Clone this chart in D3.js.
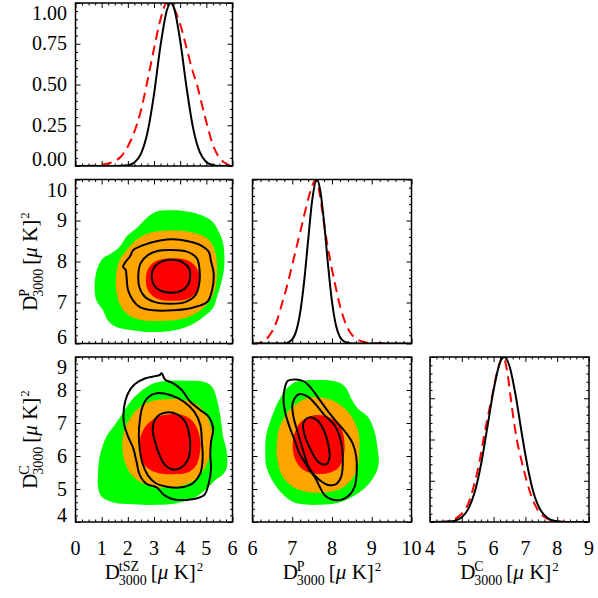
<!DOCTYPE html>
<html><head><meta charset="utf-8">
<script src="https://cdn.jsdelivr.net/npm/d3@7"></script>
<style>
body{margin:0;background:#fff}
svg{display:block}
</style>
</head><body>
<svg id="c" width="598" height="598" font-family="'Liberation Serif', 'DejaVu Serif', serif"></svg>
<script>
// ---------- axis ranges and ticks ----------
const tszRange = [0, 6];
const pRange = [6, 10];
const cRange = [4, 9];
const probRange = [0, 1];
const tszTicks = [0, 1, 2, 3, 4, 5, 6];
const pTicks = [6, 7, 8, 9, 10];
const cTicks = [4, 5, 6, 7, 8, 9];
const probTicks = [0, 0.25, 0.5, 0.75, 1.0];
const probTickLabels = ["0.00", "0.25", "0.50", "0.75", "1.00"];
const tszMinorStep = 0.25, pMinorStep = 0.2, cMinorStep = 0.2, probMinorStep = 0.05;

// ---------- 1D marginals ----------
const tszBlackX = [0, 1.5, 2.0, 2.25, 2.5, 2.75, 3.0, 3.25, 3.5, 3.64, 3.75, 4.0, 4.25, 4.5, 4.75, 5.0, 5.25, 5.5, 6.0];
const tszBlackY = [0, 0, 0.005, 0.021, 0.074, 0.205, 0.44, 0.74, 0.96, 1.0, 0.976, 0.77, 0.475, 0.228, 0.085, 0.025, 0.006, 0, 0];
const tszRedX = [0.4, 1.0, 1.5, 1.75, 2.0, 2.25, 2.5, 2.72, 3.0, 3.25, 3.49, 3.75, 4.0, 4.25, 4.5, 4.64, 4.75, 5.0, 5.25, 5.5, 5.75, 5.95];
const tszRedY = [0, 0.008, 0.03, 0.06, 0.12, 0.21, 0.34, 0.5, 0.72, 0.9, 1.0, 0.97, 0.87, 0.72, 0.57, 0.5, 0.43, 0.27, 0.13, 0.05, 0.015, 0];

const pBlackX = [6.0, 6.8, 7.0, 7.1, 7.2, 7.3, 7.4, 7.5, 7.62, 7.7, 7.8, 7.9, 8.0, 8.1, 8.2, 8.3, 8.5, 10.0];
const pBlackY = [0, 0, 0.026, 0.077, 0.19, 0.38, 0.63, 0.87, 1.0, 0.94, 0.74, 0.48, 0.255, 0.11, 0.04, 0.013, 0, 0];
const pRedX = [6.0, 6.2, 6.4, 6.6, 6.75, 6.9, 7.02, 7.15, 7.27, 7.4, 7.5, 7.59, 7.7, 7.77, 7.87, 7.96, 8.07, 8.18, 8.3, 8.45, 8.6, 8.8, 9.0, 9.4];
const pRedY = [0, 0.005, 0.04, 0.13, 0.25, 0.38, 0.5, 0.63, 0.75, 0.88, 0.96, 1.0, 0.9, 0.78, 0.62, 0.5, 0.37, 0.25, 0.15, 0.07, 0.03, 0.01, 0.002, 0];

const cBlackX = [4.0, 4.6, 4.8, 5.0, 5.2, 5.4, 5.6, 5.8, 6.0, 6.2, 6.33, 6.5, 6.7, 6.9, 7.1, 7.3, 7.5, 7.7, 7.9, 8.2, 9.0];
const cBlackY = [0, 0.0025, 0.009, 0.029, 0.078, 0.177, 0.344, 0.57, 0.80, 0.966, 1.0, 0.944, 0.76, 0.52, 0.305, 0.15, 0.065, 0.024, 0.007, 0, 0];
const cRedX = [4.3, 4.6, 4.8, 5.0, 5.2, 5.42, 5.55, 5.68, 5.8, 5.94, 6.1, 6.3, 6.42, 6.54, 6.63, 6.73, 6.88, 7.04, 7.2, 7.4, 7.6, 7.8, 8.0, 8.4];
const cRedY = [0, 0.005, 0.02, 0.05, 0.11, 0.25, 0.36, 0.5, 0.62, 0.75, 0.9, 1.0, 0.92, 0.75, 0.62, 0.5, 0.37, 0.25, 0.15, 0.07, 0.03, 0.01, 0.003, 0];

// ---------- 2D: tSZ vs P ----------
const tszP_green = [[3.10,9.22],[3.74,9.25],[4.26,9.22],[4.77,9.14],[5.22,8.98],[5.47,8.73],[5.64,8.45],[5.69,8.12],[5.67,7.79],[5.56,7.46],[5.41,7.14],[5.28,6.89],[4.90,6.65],[4.38,6.44],[3.74,6.32],[2.97,6.28],[2.21,6.32],[1.56,6.40],[1.24,6.56],[1.05,6.81],[0.79,7.06],[0.73,7.38],[0.76,7.63],[0.86,7.87],[1.05,8.08],[1.37,8.20],[1.69,8.36],[1.95,8.61],[2.33,8.81],[2.72,9.06]];
const tszP_orange = [[3.10,8.73],[4.0,8.75],[4.77,8.65],[5.15,8.49],[5.35,8.20],[5.41,7.79],[5.35,7.38],[5.15,7.06],[4.77,6.81],[4.13,6.61],[3.23,6.55],[2.46,6.58],[1.95,6.73],[1.69,6.97],[1.56,7.30],[1.56,7.71],[1.69,8.04],[1.95,8.28],[2.33,8.53],[2.72,8.67]];
const tszP_red = [[3.72,8.08],[4.32,8.02],[4.64,7.83],[4.74,7.56],[4.64,7.28],[4.32,7.10],[3.72,7.04],[3.10,7.10],[2.78,7.28],[2.69,7.56],[2.78,7.83],[3.10,8.02]];
const tszP_line1 = [[3.64,8.04],[4.10,7.98],[4.35,7.82],[4.38,7.64],[4.29,7.42],[4.0,7.27],[3.64,7.24],[3.27,7.28],[3.0,7.42],[2.91,7.64],[3.0,7.85],[3.27,7.99]];
const tszP_line2 = [[3.62,8.28],[4.26,8.24],[4.64,8.08],[4.74,7.79],[4.73,7.46],[4.58,7.18],[4.19,7.01],[3.62,6.97],[3.04,7.01],[2.65,7.14],[2.44,7.38],[2.40,7.67],[2.49,7.96],[2.78,8.16],[3.17,8.26]];
const tszP_line3 = [[2.21,8.28],[2.59,8.40],[3.23,8.51],[3.74,8.54],[4.26,8.50],[4.77,8.40],[5.09,8.24],[5.18,8.0],[5.28,7.71],[5.22,7.30],[5.03,7.01],[4.51,6.88],[3.74,6.81],[2.97,6.81],[2.46,6.89],[2.21,7.04],[2.01,7.30],[1.95,7.63],[1.92,7.79],[1.82,7.87],[1.88,7.96],[2.08,8.12]];

// ---------- 2D: tSZ vs C ----------
const tszC_green = [[2.97,8.20],[3.49,8.28],[4.26,8.28],[4.90,8.25],[5.22,8.10],[5.41,7.70],[5.54,7.19],[5.64,6.59],[5.77,6.18],[5.79,5.68],[5.67,5.47],[5.35,5.27],[4.96,4.97],[4.51,4.72],[3.87,4.57],[3.10,4.52],[2.21,4.54],[1.44,4.59],[0.99,4.77],[0.86,5.07],[0.86,5.47],[0.90,5.88],[0.99,6.18],[1.18,6.59],[1.50,6.94],[1.76,7.24],[2.01,7.55],[2.27,7.80],[2.59,8.02]];
const tszC_orange = [[3.49,7.72],[4.13,7.70],[4.71,7.52],[5.05,7.14],[5.22,6.69],[5.18,6.18],[5.0,5.73],[4.71,5.39],[4.26,5.15],[3.62,5.05],[2.97,5.07],[2.46,5.22],[2.10,5.47],[1.88,5.83],[1.79,6.28],[1.85,6.74],[2.08,7.14],[2.40,7.44],[2.85,7.65]];
const tszC_red = [[3.74,7.27],[4.26,7.19],[4.58,6.94],[4.77,6.48],[4.74,6.03],[4.58,5.68],[4.26,5.49],[3.74,5.45],[3.23,5.47],[2.85,5.58],[2.59,5.78],[2.46,6.18],[2.49,6.59],[2.72,6.94],[3.17,7.19]];
const tszC_line1 = [[3.42,7.31],[3.87,7.27],[4.19,7.04],[4.36,6.59],[4.38,6.18],[4.26,5.83],[4.0,5.63],[3.68,5.60],[3.42,5.73],[3.21,6.03],[3.04,6.43],[2.95,6.84],[3.10,7.17]];
const tszC_line2 = [[3.10,7.90],[3.62,7.85],[4.13,7.65],[4.54,7.34],[4.77,6.94],[4.83,6.43],[4.86,5.93],[4.77,5.47],[4.51,5.19],[4.06,5.05],[3.49,5.07],[3.04,5.19],[2.76,5.42],[2.56,5.78],[2.46,6.18],[2.42,6.64],[2.46,7.09],[2.56,7.49],[2.78,7.78]];
const tszC_line3 = [[3.29,8.51],[3.42,8.32],[3.74,8.20],[4.06,8.0],[4.38,7.65],[4.77,7.39],[5.09,7.19],[5.26,6.84],[5.18,6.43],[5.15,6.03],[5.18,5.63],[5.09,5.17],[4.92,4.82],[4.45,4.69],[3.74,4.69],[3.38,4.82],[3.10,5.05],[2.72,5.15],[2.46,5.42],[2.33,5.83],[2.21,6.23],[2.01,6.59],[1.85,6.99],[1.85,7.44],[2.01,7.90],[2.27,8.18],[2.65,8.35],[3.04,8.42],[3.21,8.45]];

// ---------- 2D: P vs C ----------
const pC_green = [[7.10,8.25],[7.77,8.30],[8.19,8.22],[8.36,8.05],[8.48,7.75],[8.65,7.44],[8.90,7.19],[9.03,6.89],[9.11,6.54],[9.15,6.18],[9.18,5.88],[9.14,5.58],[9.03,5.32],[8.82,5.02],[8.52,4.77],[8.19,4.59],[7.69,4.52],[7.18,4.55],[6.93,4.67],[6.68,4.95],[6.47,5.32],[6.34,5.73],[6.32,6.18],[6.34,6.59],[6.43,6.99],[6.55,7.39],[6.72,7.80],[6.89,8.08]];
const pC_orange = [[7.52,7.78],[7.94,7.72],[8.27,7.49],[8.52,7.14],[8.67,6.69],[8.69,6.18],[8.65,5.68],[8.48,5.27],[8.19,4.99],[7.77,4.89],[7.35,4.92],[7.01,5.07],[6.76,5.37],[6.64,5.78],[6.61,6.28],[6.66,6.79],[6.81,7.19],[7.01,7.49],[7.27,7.70]];
const pC_red = [[7.60,7.24],[7.94,7.17],[8.19,6.94],[8.31,6.48],[8.29,5.98],[8.15,5.63],[7.85,5.47],[7.52,5.47],[7.27,5.58],[7.08,5.88],[7.01,6.28],[7.06,6.69],[7.22,7.04]];
const pC_line1 = [[7.43,7.17],[7.62,7.09],[7.77,6.84],[7.90,6.38],[7.94,5.98],[7.87,5.76],[7.73,5.76],[7.58,5.93],[7.43,6.28],[7.31,6.64],[7.28,6.99]];
const pC_line2 = [[7.17,7.87],[7.39,7.80],[7.60,7.55],[7.81,7.24],[8.06,6.94],[8.19,6.59],[8.26,6.18],[8.27,5.73],[8.23,5.37],[8.10,5.15],[7.90,5.12],[7.69,5.27],[7.52,5.47],[7.39,5.73],[7.31,6.03],[7.22,6.38],[7.12,6.79],[7.03,7.19],[7.01,7.60]];
const pC_line3 = [[6.89,8.28],[7.10,8.32],[7.31,8.25],[7.48,8.05],[7.69,7.70],[7.94,7.29],[8.15,6.99],[8.36,6.69],[8.52,6.38],[8.61,5.98],[8.62,5.47],[8.57,5.07],[8.44,4.82],[8.23,4.67],[7.98,4.69],[7.81,4.82],[7.69,5.07],[7.56,5.37],[7.43,5.58],[7.31,5.83],[7.18,6.08],[7.06,6.48],[6.93,6.89],[6.83,7.29],[6.78,7.70],[6.81,8.05]];

// labels
const paramSup = ["tSZ", "P", "C"];

// ---------- layout ----------
const FONT = "'Liberation Serif', 'DejaVu Serif', serif";
const svg = d3.select("#c");
const colX = [[75.5, 232.5], [252.5, 411.5], [430, 589]];
const rowY = [[3, 166], [179.5, 343.5], [357, 522]];
const ranges = [tszRange, pRange, cRange];
const majors = [tszTicks, pTicks, cTicks];
const minorSteps = [tszMinorStep, pMinorStep, cMinorStep];
const COL_GREEN = "#00ff00", COL_ORANGE = "#ffa500", COL_RED = "#ff0000";

function txt(sel) {
  return sel.append("text").attr("font-family", FONT).attr("fill", "#000");
}

let clipId = 0;
function makePanel(ci, ri, yDom) {
  const x = d3.scaleLinear().domain(ranges[ci]).range(colX[ci]);
  const y = d3.scaleLinear().domain(yDom).range([rowY[ri][1], rowY[ri][0]]);
  const id = "clip" + (clipId++);
  svg.append("clipPath").attr("id", id).append("rect")
    .attr("x", colX[ci][0]).attr("y", rowY[ri][0])
    .attr("width", colX[ci][1] - colX[ci][0]).attr("height", rowY[ri][1] - rowY[ri][0]);
  const g = svg.append("g").attr("clip-path", `url(#${id})`);
  return { x, y, g, ci, ri };
}

function minorVals(dom, step, major) {
  return d3.range(dom[0], dom[1] + step / 2, step).filter(v => !major.some(m => Math.abs(m - v) < 1e-6));
}

function frame(p, yMajor, yMinorStep) {
  const { x, y, ci, ri } = p;
  const xMaj = majors[ci], xMin = minorVals(ranges[ci], minorSteps[ci], xMaj);
  const yMin = minorVals(y.domain(), yMinorStep, yMajor);
  const [x0, x1] = colX[ci], [y0, y1] = rowY[ri];
  const tickG = svg.append("g");
  [[xMaj, 5], [xMin, 2.5]].forEach(([vals, len]) => {
    tickG.append("g").attr("transform", `translate(0,${y1})`)
      .call(d3.axisBottom(x).tickValues(vals).tickSize(-len).tickFormat(""));
    tickG.append("g").attr("transform", `translate(0,${y0})`)
      .call(d3.axisTop(x).tickValues(vals).tickSize(-len).tickFormat(""));
  });
  [[yMajor, 5], [yMin, 2.5]].forEach(([vals, len]) => {
    tickG.append("g").attr("transform", `translate(${x0},0)`)
      .call(d3.axisLeft(y).tickValues(vals).tickSize(-len).tickFormat(""));
    tickG.append("g").attr("transform", `translate(${x1},0)`)
      .call(d3.axisRight(y).tickValues(vals).tickSize(-len).tickFormat(""));
  });
  tickG.selectAll(".domain").remove();
  tickG.selectAll(".tick line").attr("stroke", "#000").attr("stroke-width", 1);
  svg.append("rect").attr("x", x0).attr("y", y0).attr("width", x1 - x0).attr("height", y1 - y0)
    .attr("fill", "none").attr("stroke", "#000").attr("stroke-width", 1.5);
}

function yLabels(p, vals, labels) {
  const [y0, y1] = rowY[p.ri];
  vals.forEach((v, i) => {
    const base = Math.max(y0 + 17, Math.min(y1, p.y(v) + 6.6));
    txt(svg).attr("x", 67).attr("y", base).attr("text-anchor", "end")
      .attr("font-size", 20).text(labels[i]);
  });
}

function xLabels(p) {
  majors[p.ci].forEach(v => {
    txt(svg).attr("x", p.x(v)).attr("y", 555).attr("text-anchor", "middle")
      .attr("font-size", 20).text(v);
  });
}

function curve1D(p, xs, ys, color, dashed) {
  const pts = xs.map((v, i) => [v, ys[i]]);
  const line = d3.line().x(d => p.x(d[0])).y(d => p.y(d[1])).curve(d3.curveMonotoneX);
  const path = p.g.append("path").attr("d", line(pts)).attr("fill", "none")
    .attr("stroke", color).attr("stroke-width", 2);
  if (dashed) path.attr("stroke-dasharray", "10,6");
}

function blob(p, pts, fill) {
  const line = d3.line().x(d => p.x(d[0])).y(d => p.y(d[1])).curve(d3.curveCatmullRomClosed.alpha(0.5));
  const path = p.g.append("path").attr("d", line(pts));
  if (fill) path.attr("fill", fill).attr("stroke", "none");
  else path.attr("fill", "none").attr("stroke", "#000").attr("stroke-width", 2);
}

function axisTitle(cx, cy, rot, sup) {
  const g = svg.append("g").attr("transform", `translate(${cx},${cy}) rotate(${rot})`);
  const inner = g.append("g");
  const big = 21, small = 14;
  let pos = 0;
  const D = txt(inner).attr("x", 0).attr("y", 0).attr("font-size", big).text("D");
  pos += D.node().getComputedTextLength() - 1;
  const s1 = txt(inner).attr("x", pos).attr("y", -8).attr("font-size", small).text(sup);
  const s2 = txt(inner).attr("x", pos).attr("y", 6).attr("font-size", small).text("3000");
  pos += Math.max(s1.node().getComputedTextLength(), s2.node().getComputedTextLength()) + 4;
  const br = txt(inner).attr("x", pos).attr("y", 0).attr("font-size", big);
  br.append("tspan").text("[");
  br.append("tspan").attr("font-style", "italic").text("\u03bc");
  br.append("tspan").text(" K]");
  pos += br.node().getComputedTextLength() + 1;
  const two = txt(inner).attr("x", pos).attr("y", -8).attr("font-size", 13).text("2");
  pos += two.node().getComputedTextLength();
  inner.attr("transform", `translate(${-pos / 2},0)`);
}

// ---------- draw ----------
const d1 = makePanel(0, 0, probRange);
curve1D(d1, tszRedX, tszRedY, COL_RED, true);
curve1D(d1, tszBlackX, tszBlackY, "#000", false);
frame(d1, probTicks, probMinorStep);
yLabels(d1, probTicks, probTickLabels);

const m21 = makePanel(0, 1, pRange);
blob(m21, tszP_green, COL_GREEN);
blob(m21, tszP_orange, COL_ORANGE);
blob(m21, tszP_red, COL_RED);
[tszP_line1, tszP_line2, tszP_line3].forEach(l => blob(m21, l, null));
frame(m21, pTicks, pMinorStep);
yLabels(m21, pTicks, pTicks.map(String));

const d2 = makePanel(1, 1, probRange);
curve1D(d2, pRedX, pRedY, COL_RED, true);
curve1D(d2, pBlackX, pBlackY, "#000", false);
frame(d2, probTicks, probMinorStep);

const m31 = makePanel(0, 2, cRange);
blob(m31, tszC_green, COL_GREEN);
blob(m31, tszC_orange, COL_ORANGE);
blob(m31, tszC_red, COL_RED);
[tszC_line1, tszC_line2, tszC_line3].forEach(l => blob(m31, l, null));
frame(m31, cTicks, cMinorStep);
yLabels(m31, cTicks, cTicks.map(String));
xLabels(m31);

const m32 = makePanel(1, 2, cRange);
blob(m32, pC_green, COL_GREEN);
blob(m32, pC_orange, COL_ORANGE);
blob(m32, pC_red, COL_RED);
[pC_line1, pC_line2, pC_line3].forEach(l => blob(m32, l, null));
frame(m32, cTicks, cMinorStep);
xLabels(m32);

const d3p = makePanel(2, 2, probRange);
curve1D(d3p, cRedX, cRedY, COL_RED, true);
curve1D(d3p, cBlackX, cBlackY, "#000", false);
frame(d3p, probTicks, probMinorStep);
xLabels(d3p);

axisTitle((colX[0][0] + colX[0][1]) / 2, 579, 0, paramSup[0]);
axisTitle((colX[1][0] + colX[1][1]) / 2, 579, 0, paramSup[1]);
axisTitle((colX[2][0] + colX[2][1]) / 2, 579, 0, paramSup[2]);
axisTitle(37, (rowY[1][0] + rowY[1][1]) / 2, -90, paramSup[1]);
axisTitle(37, (rowY[2][0] + rowY[2][1]) / 2, -90, paramSup[2]);
</script>
</body></html>
